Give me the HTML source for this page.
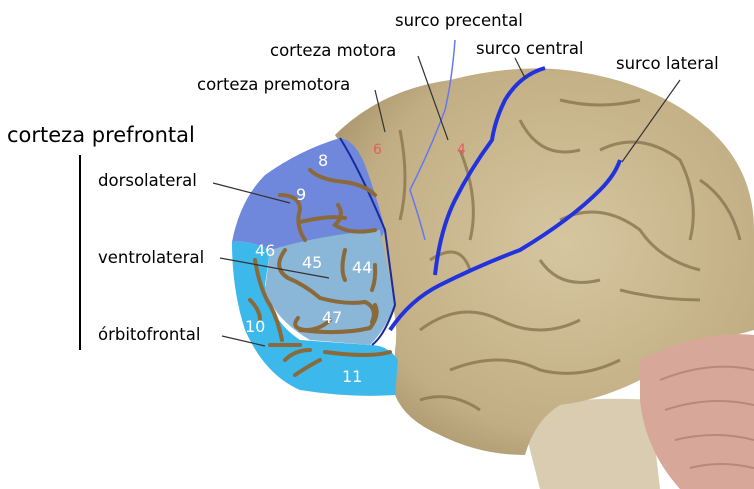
<!DOCTYPE html>
<html><head><style>
body{margin:0;background:#fff;}
svg{display:block;}
text{font-family:"DejaVu Sans","Liberation Sans",sans-serif;}
</style></head><body>
<svg width="754" height="489" viewBox="0 0 754 489" xmlns="http://www.w3.org/2000/svg">
<defs>
<radialGradient id="tan" cx="0.55" cy="0.45" r="0.7">
<stop offset="0" stop-color="#d6c6a0"/><stop offset="0.7" stop-color="#c2ae84"/><stop offset="1" stop-color="#9f8a62"/>
</radialGradient>
</defs>
<!-- brainstem -->
<path d="M520 410 Q580 395 650 400 L660 489 L540 489 Q530 450 520 410Z" fill="#d9ccb0"/>
<!-- main brain -->
<path d="M335 135 Q380 90 450 80 Q520 62 580 72 Q660 85 710 130 Q754 170 754 230 L754 330 Q720 340 680 345 Q650 355 640 380 Q600 400 560 405 Q535 420 525 455 Q480 455 440 435 Q405 420 395 395 L395 350 Q400 320 385 280 Q380 200 335 135Z" fill="url(#tan)"/>
<!-- cerebellum -->
<path d="M640 360 Q700 330 754 335 L754 489 L680 489 Q645 450 640 400Z" fill="#d7a79a"/>
<path d="M660 380 Q710 360 754 370 M665 410 Q710 395 754 405 M675 440 Q715 430 754 440 M690 468 Q720 460 754 468" stroke="#b88878" stroke-width="2" fill="none"/>
<g stroke="#8a7550" stroke-width="3" fill="none" opacity="0.8">
<path d="M420 330 Q460 300 500 320 Q540 340 580 320"/><path d="M450 370 Q500 350 540 370 Q580 380 620 360"/>
<path d="M600 150 Q640 130 680 160 Q700 200 690 240"/><path d="M560 220 Q600 200 640 230 Q660 260 700 270"/>
<path d="M520 120 Q540 160 580 150"/><path d="M460 150 Q480 200 470 240"/><path d="M620 290 Q660 300 700 300"/>
<path d="M400 130 Q410 180 400 220"/><path d="M540 260 Q560 290 600 280"/><path d="M430 260 Q460 240 470 270"/>
<path d="M420 400 Q450 390 480 410"/><path d="M560 100 Q600 110 640 100"/><path d="M700 180 Q730 200 740 240"/>
</g>
<!-- sulci -->
<path d="M545 68 Q520 75 505 100 Q495 120 492 140 Q470 170 455 200 Q440 230 435 275" stroke="#2233dd" stroke-width="4" fill="none"/>
<path d="M390 330 Q410 300 440 285 Q480 265 520 250 Q570 220 600 190 Q615 175 620 160" stroke="#2233dd" stroke-width="4" fill="none"/>
<path d="M455 40 Q452 80 445 110 Q430 150 410 190 Q420 220 425 240" stroke="#6677ee" stroke-width="1.5" fill="none"/>
<!-- prefrontal regions -->
<path d="M232 242 Q232 290 245 330 Q265 375 300 390 Q350 398 395 395 L398 360 Q388 345 370 345 L300 340 Q270 320 265 285 L270 250 Q250 240 232 242Z" fill="#3cb8ea"/>
<path d="M232 242 Q240 200 265 175 Q300 150 340 138 Q355 140 365 165 Q378 200 385 230 L380 240 Q340 232 300 245 L270 250 Q250 240 232 242Z" fill="#6f88dc"/>
<path d="M270 250 Q320 235 380 230 L395 305 Q385 330 370 345 L310 340 Q275 320 265 290Z" fill="#8ab6d8"/>
<path d="M340 138 Q360 170 385 230 L395 305 Q385 335 372 345" stroke="#1a2a9a" stroke-width="2" fill="none"/>
<g stroke="#8a6a3a" stroke-width="4" fill="none" stroke-linecap="round">
<path d="M310 170 Q320 180 345 182 Q365 185 375 195"/><path d="M280 195 Q300 195 300 210 Q295 225 305 240"/>
<path d="M300 222 Q330 215 345 218 M338 205 Q345 215 335 225 Q350 235 375 230"/>
<path d="M285 250 Q272 268 288 278 Q305 285 320 298 Q345 305 365 302 Q378 308 372 322"/>
<path d="M345 250 Q340 270 345 280"/><path d="M375 265 Q376 280 372 290"/>
<path d="M298 318 Q290 328 305 330 Q320 330 330 320 M300 330 Q340 335 370 328 Q380 315 375 305"/>
<path d="M255 260 Q260 290 270 305 Q278 320 282 340"/><path d="M250 300 Q260 310 260 320"/>
<path d="M270 345 L300 345 M285 360 Q295 350 310 350 M295 375 Q310 365 320 360 M325 352 Q370 358 390 352"/>
</g>
<g fill="#fff" font-size="16">
<text x="318" y="166">8</text><text x="296" y="200">9</text><text x="255" y="256">46</text><text x="302" y="268">45</text>
<text x="352" y="273">44</text><text x="322" y="323">47</text><text x="245" y="332">10</text><text x="342" y="382">11</text>
</g>
<text x="373" y="154" fill="#e06060" font-size="14">6</text><text x="457" y="154" fill="#e06060" font-size="14">4</text>
<!-- leader lines -->
<g stroke="#333" stroke-width="1.2">
<line x1="213" y1="183" x2="290" y2="203"/><line x1="220" y1="258" x2="329" y2="278"/><line x1="222" y1="336" x2="265" y2="346"/>
<line x1="375" y1="90" x2="385" y2="132"/><line x1="418" y1="56" x2="448" y2="140"/>
<line x1="515" y1="58" x2="525" y2="78"/><line x1="680" y1="80" x2="622" y2="162"/>
</g>
<line x1="80" y1="155" x2="80" y2="350" stroke="#000" stroke-width="2"/>
<g fill="#000" font-size="16.5">
<text x="7" y="142" font-size="21">corteza prefrontal</text>
<text x="98" y="186">dorsolateral</text><text x="98" y="263">ventrolateral</text><text x="98" y="340">órbitofrontal</text>
<text x="395" y="26">surco precental</text><text x="270" y="56">corteza motora</text><text x="476" y="54">surco central</text>
<text x="197" y="90">corteza premotora</text><text x="616" y="69">surco lateral</text>
</g>
</svg>
</body></html>
